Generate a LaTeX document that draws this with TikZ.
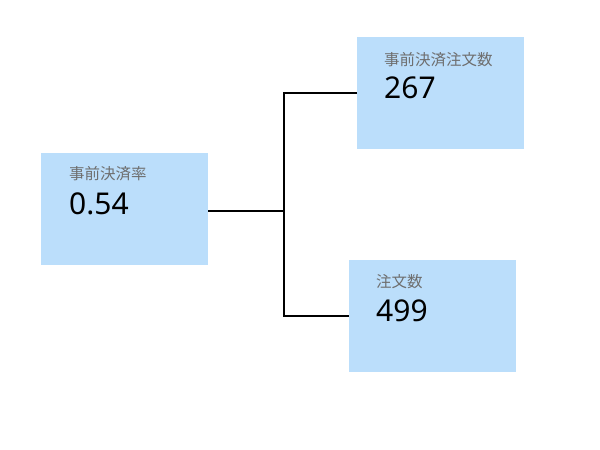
\documentclass[tikz,border=0pt]{standalone}
\usepackage{fontspec}
\setmainfont{Noto Sans}
\newfontfamily\cjk{Noto Sans CJK JP}
\definecolor{boxblue}{HTML}{BBDEFB}
\definecolor{labelgray}{HTML}{6E6E6E}
\begin{document}
\begin{tikzpicture}[x=1pt,y=-1pt,
  card/.style={fill=boxblue, draw=none, minimum width=167pt, minimum height=112pt, inner sep=0pt, anchor=north west},
  lbl/.style={anchor=base west, inner sep=0pt, text=labelgray, font=\cjk\fontsize{15.5}{18}\selectfont},
  val/.style={anchor=base west, inner sep=0pt, text=black, font=\fontsize{30}{34}\selectfont},
  conn/.style={draw=black, line width=2pt}]
\useasboundingbox (0,0) rectangle (600,450);
\node[card] (L) at (41,153) {};
\node[card] (T) at (357,37) {};
\node[card] (B) at (349,260) {};
\node[lbl] (Ll) at (69,179.5) {事前決済率};
\node[val] (Lv) at (69,214.5) {0.54};
\node[lbl] (Tl) at (384,65) {事前決済注文数};
\node[val] (Tv) at (384,98) {267};
\node[lbl] (Bl) at (376,287) {注文数};
\node[val] (Bv) at (376,321) {499};
\coordinate (j) at (284,211);
\draw[conn] (L.east |- j) -- (j);
\draw[conn] (T.west) -- (T.west -| j) -- (B.west -| j) -- (B.west);
\end{tikzpicture}
\end{document}
